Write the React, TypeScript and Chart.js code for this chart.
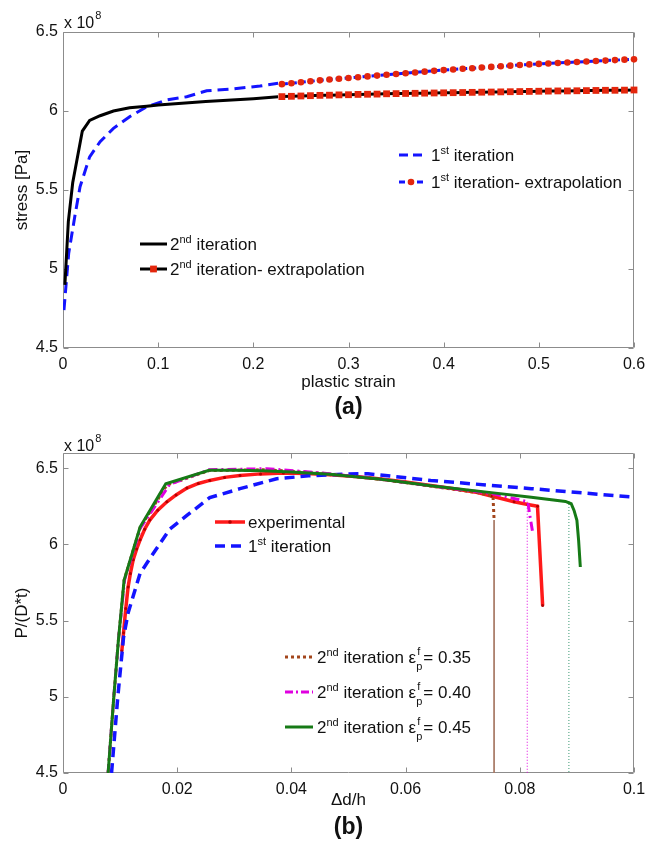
import { useEffect, useRef } from 'react';
import { Chart, registerables } from 'chart.js';

Chart.register(...registerables);

const FONT = '"Liberation Sans", Arial, Helvetica, sans-serif';

// ---------- (a) flow curves, stress in units of 1e8 Pa ----------
const strain2nd = [0.002, 0.0056, 0.0102, 0.0203, 0.028, 0.039, 0.053, 0.07, 0.088, 0.1, 0.15, 0.2, 0.226];
const stress2nd = [4.9, 5.3, 5.546, 5.873, 5.94, 5.97, 6.0, 6.02, 6.03, 6.038, 6.06, 6.078, 6.09];

const strain1st = [0.001, 0.006, 0.0126, 0.0179, 0.028, 0.039, 0.053, 0.07, 0.088, 0.109, 0.13, 0.151, 0.179, 0.207, 0.226];
const stress1st = [4.74, 5.1, 5.34, 5.52, 5.71, 5.806, 5.89, 5.964, 6.027, 6.07, 6.09, 6.128, 6.14, 6.158, 6.175];

const strainExtrap = [
  0.23, 0.24, 0.25, 0.26, 0.27, 0.28, 0.29, 0.3, 0.31, 0.32, 0.33, 0.34, 0.35, 0.36, 0.37, 0.38, 0.39, 0.4, 0.41,
  0.42, 0.43, 0.44, 0.45, 0.46, 0.47, 0.48, 0.49, 0.5, 0.51, 0.52, 0.53, 0.54, 0.55, 0.56, 0.57, 0.58, 0.59, 0.6,
];
const stress1stExtrap = [
  6.17, 6.176, 6.182, 6.188, 6.194, 6.199, 6.204, 6.209, 6.214, 6.219, 6.224, 6.229, 6.234, 6.239, 6.244, 6.249,
  6.254, 6.259, 6.263, 6.267, 6.271, 6.275, 6.279, 6.283, 6.287, 6.291, 6.295, 6.298, 6.301, 6.304, 6.307, 6.31,
  6.313, 6.316, 6.319, 6.322, 6.325, 6.327,
];
const stress2ndExtrap = [
  6.091, 6.093, 6.095, 6.097, 6.099, 6.1, 6.102, 6.103, 6.105, 6.106, 6.107, 6.109, 6.11, 6.111, 6.112, 6.113,
  6.114, 6.115, 6.116, 6.117, 6.118, 6.119, 6.12, 6.121, 6.122, 6.123, 6.124, 6.125, 6.126, 6.127, 6.127, 6.128,
  6.129, 6.13, 6.131, 6.131, 6.132, 6.133,
];
const strainTicks = [0, 0.1, 0.2, 0.3, 0.4, 0.5, 0.6];
const stressTicks = [4.5, 5, 5.5, 6, 6.5];

// ---------- (b) load–displacement, P/(D*t) in units of 1e8 ----------
const dhExp = [
  0.0103, 0.0106, 0.011, 0.0114, 0.0118, 0.0123, 0.0129, 0.0135, 0.0143, 0.0152, 0.0166, 0.0182, 0.0198, 0.0217,
  0.0237, 0.0257, 0.0283, 0.031, 0.0346, 0.0386, 0.0427, 0.0468, 0.0512, 0.0557, 0.06, 0.0644, 0.0685, 0.0726,
  0.075, 0.079, 0.0814, 0.0831, 0.084,
];
const loadExp = [
  5.3, 5.42, 5.58, 5.72, 5.81, 5.9, 5.97, 6.03, 6.1, 6.16, 6.225, 6.28, 6.325, 6.37, 6.4, 6.42, 6.44, 6.453, 6.463,
  6.468, 6.465, 6.457, 6.445, 6.43, 6.41, 6.387, 6.365, 6.34, 6.318, 6.28, 6.262, 6.25, 5.6,
];

const dh1st = [0.0085, 0.0096, 0.0106, 0.0114, 0.0135, 0.0158, 0.0187, 0.0217, 0.0257, 0.031, 0.0374, 0.043, 0.05, 0.0534, 0.0644, 0.082, 0.1];
const load1st = [4.5, 5.0, 5.39, 5.55, 5.81, 5.94, 6.1, 6.19, 6.307, 6.366, 6.431, 6.45, 6.462, 6.464, 6.42, 6.366, 6.31];

const dh035 = [0.0079, 0.0089, 0.0097, 0.0107, 0.0135, 0.0182, 0.0256, 0.0357, 0.045, 0.0557, 0.0644, 0.0725, 0.0753, 0.0755];
const load035 = [4.5, 5.0, 5.37, 5.765, 6.11, 6.39, 6.485, 6.49, 6.468, 6.427, 6.383, 6.34, 6.318, 6.16];

const dh040 = [0.0079, 0.0089, 0.0097, 0.0108, 0.0136, 0.0187, 0.0256, 0.0357, 0.045, 0.0557, 0.0644, 0.075, 0.0814, 0.0818, 0.0823];
const load040 = [4.5, 5.0, 5.37, 5.77, 6.11, 6.395, 6.49, 6.497, 6.47, 6.428, 6.385, 6.335, 6.28, 6.18, 6.07];

const dh045 = [
  0.0079, 0.0089, 0.0097, 0.0107, 0.0135, 0.018, 0.0256, 0.03, 0.035, 0.04, 0.0468, 0.0557, 0.0644, 0.075, 0.082,
  0.088, 0.089, 0.0895, 0.09, 0.0903, 0.0906,
];
const load045 = [
  4.5, 5.0, 5.37, 5.765, 6.114, 6.398, 6.486, 6.487, 6.484, 6.476, 6.46, 6.428, 6.385, 6.34, 6.31, 6.282, 6.267,
  6.223, 6.158, 6.027, 5.852,
];

// fracture markers: displacement at failure and load where each curve drops off
const dhFracture = [0.0755, 0.0813, 0.0886];
const loadFracture = [6.16, 6.28, 6.285];

const dhTicks = [0, 0.02, 0.04, 0.06, 0.08, 0.1];
const loadTicks = [4.5, 5, 5.5, 6, 6.5];

const pts = (xs: number[], ys: number[]) => xs.map((x, i) => ({ x, y: ys[i] }));
const vline = (x: number, top: number, bottom: number) => [
  { x, y: top },
  { x, y: bottom },
];

// ---------- drawing helpers ----------
type Run = { t: string; sup?: boolean; stack?: [string, string] };
type Sample = { color: string; width: number; dash?: number[]; marker?: 'circle' | 'square' | 'dot'; markerColor?: string };
type LegendRow = { y: number; runs: Run[]; sample: Sample };
type Legend = { x0: number; x1: number; tx: number; rows: LegendRow[] };
type Overlay = {
  legends: Legend[];
  xTitle: { text: string; y: number };
  yTitle: { text: string; x: number };
  letter: { text: string; y: number };
  expBase: number;
};

const LEG = 17;

function drawRuns(ctx: CanvasRenderingContext2D, x: number, midY: number, runs: Run[], size: number) {
  const base = midY + size * 0.36;
  const small = Math.round(size * 0.66);
  let cx = x;
  ctx.fillStyle = '#111';
  ctx.textAlign = 'left';
  ctx.textBaseline = 'alphabetic';
  for (const r of runs) {
    if (r.stack) {
      ctx.font = `${small}px ${FONT}`;
      const [sup, sub] = r.stack;
      ctx.fillText(sup, cx + 1, base - size * 0.45);
      ctx.fillText(sub, cx, base + size * 0.42);
      cx += Math.max(ctx.measureText(sup).width, ctx.measureText(sub).width) + 1;
    } else if (r.sup) {
      ctx.font = `${small}px ${FONT}`;
      ctx.fillText(r.t, cx, base - size * 0.42);
      cx += ctx.measureText(r.t).width;
    } else {
      ctx.font = `${size}px ${FONT}`;
      ctx.fillText(r.t, cx, base);
      cx += ctx.measureText(r.t).width;
    }
  }
}

function drawSample(ctx: CanvasRenderingContext2D, x0: number, x1: number, y: number, s: Sample) {
  ctx.save();
  ctx.strokeStyle = s.color;
  ctx.lineWidth = s.width;
  ctx.setLineDash(s.dash || []);
  ctx.beginPath();
  ctx.moveTo(x0, y);
  ctx.lineTo(x1, y);
  ctx.stroke();
  ctx.setLineDash([]);
  const mx = (x0 + x1) / 2;
  ctx.fillStyle = s.markerColor || s.color;
  if (s.marker === 'circle') {
    ctx.beginPath();
    ctx.arc(mx, y, 3.3, 0, Math.PI * 2);
    ctx.fill();
  } else if (s.marker === 'square') {
    ctx.fillRect(mx - 3.4, y - 3.4, 6.8, 6.8);
  } else if (s.marker === 'dot') {
    ctx.beginPath();
    ctx.arc(mx, y, 1.8, 0, Math.PI * 2);
    ctx.fill();
  }
  ctx.restore();
}

const boxPlugin = {
  id: 'matlabBox',
  beforeDatasetsDraw(chart: any) {
    const { ctx, chartArea: a } = chart;
    const xs = chart.scales.x;
    const ys = chart.scales.y;
    const L = Math.round(a.left) + 0.5;
    const R = Math.round(a.right) - 0.5;
    const T = Math.round(a.top) + 0.5;
    const B = Math.round(a.bottom) - 0.5;
    ctx.save();
    ctx.strokeStyle = '#8c8c8c';
    ctx.lineWidth = 1;
    ctx.setLineDash([]);
    ctx.beginPath();
    ctx.rect(L, T, R - L, B - T);
    for (const t of xs.ticks) {
      const p = Math.round(xs.getPixelForValue(t.value)) + 0.5;
      ctx.moveTo(p, B);
      ctx.lineTo(p, B - 5);
      ctx.moveTo(p, T);
      ctx.lineTo(p, T + 5);
    }
    for (const t of ys.ticks) {
      const p = Math.round(ys.getPixelForValue(t.value)) + 0.5;
      ctx.moveTo(L, p);
      ctx.lineTo(L + 5, p);
      ctx.moveTo(R, p);
      ctx.lineTo(R - 5, p);
    }
    ctx.stroke();
    ctx.restore();
  },
};

function overlayPlugin(o: Overlay) {
  return {
    id: 'overlayText',
    afterDraw(chart: any) {
      const { ctx, chartArea: a } = chart;
      const cx = (a.left + a.right) / 2;
      ctx.save();
      for (const lg of o.legends) {
        for (const row of lg.rows) {
          drawSample(ctx, lg.x0, lg.x1, row.y, row.sample);
          drawRuns(ctx, lg.tx, row.y, row.runs, LEG);
        }
      }
      ctx.fillStyle = '#111';
      ctx.textAlign = 'center';
      ctx.textBaseline = 'middle';
      ctx.font = `17px ${FONT}`;
      ctx.fillText(o.xTitle.text, cx, o.xTitle.y);
      ctx.save();
      ctx.translate(o.yTitle.x, (a.top + a.bottom) / 2);
      ctx.rotate(-Math.PI / 2);
      ctx.fillText(o.yTitle.text, 0, 0);
      ctx.restore();
      ctx.font = `bold 23px ${FONT}`;
      ctx.fillText(o.letter.text, cx, o.letter.y);
      // axis multiplier
      ctx.textAlign = 'left';
      ctx.textBaseline = 'alphabetic';
      ctx.font = `16px ${FONT}`;
      ctx.fillText('x 10', a.left + 1, o.expBase);
      const w = ctx.measureText('x 10').width;
      ctx.font = `11px ${FONT}`;
      ctx.fillText('8', a.left + 2 + w, o.expBase - 9);
      ctx.restore();
    },
  };
}

const fmt = (v: number) => String(Math.round(v * 10000) / 10000);

function axisOpts(min: number, max: number, ticks: number[], horizontal: boolean) {
  return {
    type: 'linear',
    min,
    max,
    afterBuildTicks: (s: any) => {
      s.ticks = ticks.map((v) => ({ value: v }));
    },
    afterFit: (s: any) => {
      if (horizontal) s.height = 72;
      else s.width = 63;
    },
    grid: { display: false, drawTicks: false },
    border: { display: false },
    ticks: {
      padding: horizontal ? 7 : 5,
      autoSkip: false,
      maxRotation: 0,
      color: '#111',
      font: { size: 16, family: FONT },
      callback: (v: any) => fmt(Number(v)),
    },
  };
}

function buildChart(
  canvas: HTMLCanvasElement,
  datasets: any[],
  x: [number, number, number[]],
  y: [number, number, number[]],
  padTop: number,
  overlay: Overlay,
) {
  return new Chart(canvas, {
    type: 'line',
    data: { datasets },
    options: {
      responsive: false,
      animation: false,
      events: [],
      layout: { padding: { top: padTop, right: 28, left: 0, bottom: 0 } },
      plugins: { legend: { display: false }, tooltip: { enabled: false }, title: { display: false } },
      elements: { line: { tension: 0, borderCapStyle: 'butt' }, point: { radius: 0 } },
      scales: {
        x: axisOpts(x[0], x[1], x[2], true),
        y: axisOpts(y[0], y[1], y[2], false),
      },
    } as any,
    plugins: [boxPlugin, overlayPlugin(overlay)],
  } as any);
}

const RED_MARK = '#e3260c';
const BLUE = '#1414ff';

const sup = (t: string): Run => ({ t, sup: true });

export default function App() {
  const refA = useRef<HTMLCanvasElement>(null);
  const refB = useRef<HTMLCanvasElement>(null);

  useEffect(() => {
    Chart.defaults.font.family = FONT;

    const chartA = buildChart(
      refA.current!,
      [
        {
          data: pts(strainExtrap, stress2ndExtrap),
          borderColor: '#000',
          borderWidth: 3,
          pointStyle: 'rect',
          pointRadius: 4.8,
          pointBackgroundColor: RED_MARK,
          pointBorderWidth: 0,
          clip: false,
        },
        {
          data: pts(strainExtrap, stress1stExtrap),
          borderColor: BLUE,
          borderWidth: 3,
          borderDash: [6, 3],
          pointStyle: 'circle',
          pointRadius: 3.3,
          pointBackgroundColor: RED_MARK,
          pointBorderWidth: 0,
          clip: false,
        },
        { data: pts(strain2nd, stress2nd), borderColor: '#000', borderWidth: 3 },
        { data: pts(strain1st, stress1st), borderColor: BLUE, borderWidth: 3, borderDash: [11, 6] },
      ],
      [0, 0.6, strainTicks],
      [4.5, 6.5, stressTicks],
      32,
      {
        legends: [
          {
            x0: 399,
            x1: 423,
            tx: 431,
            rows: [
              { y: 155, runs: [{ t: '1' }, sup('st'), { t: ' iteration' }], sample: { color: BLUE, width: 3, dash: [9, 5] } },
              {
                y: 182,
                runs: [{ t: '1' }, sup('st'), { t: ' iteration- extrapolation' }],
                sample: { color: BLUE, width: 3, dash: [6, 3], marker: 'circle', markerColor: RED_MARK },
              },
            ],
          },
          {
            x0: 140,
            x1: 167,
            tx: 170,
            rows: [
              { y: 244, runs: [{ t: '2' }, sup('nd'), { t: ' iteration' }], sample: { color: '#000', width: 3 } },
              {
                y: 269,
                runs: [{ t: '2' }, sup('nd'), { t: ' iteration- extrapolation' }],
                sample: { color: '#000', width: 3, marker: 'square', markerColor: RED_MARK },
              },
            ],
          },
        ],
        xTitle: { text: 'plastic strain', y: 382 },
        yTitle: { text: 'stress [Pa]', x: 22 },
        letter: { text: '(a)', y: 408 },
        expBase: 28,
      },
    );

    const GREEN = '#167a16';
    const MAGENTA = '#e000e0';
    const BROWN = '#a3461c';
    const RED = '#ff1a1a';

    const chartB = buildChart(
      refB.current!,
      [
        { data: pts(dh045, load045), borderColor: GREEN, borderWidth: 3 },
        { data: pts(dh040, load040), borderColor: MAGENTA, borderWidth: 3, borderDash: [9, 4, 2, 4] },
        { data: pts(dh035, load035), borderColor: BROWN, borderWidth: 3, borderDash: [3, 3] },
        { data: pts(dh1st, load1st), borderColor: BLUE, borderWidth: 3.5, borderDash: [10, 6] },
        {
          data: pts(dhExp, loadExp),
          borderColor: RED,
          borderWidth: 3.5,
          pointRadius: 1.5,
          pointBackgroundColor: '#b30000',
          pointBorderWidth: 0,
        },
        { data: vline(dhFracture[0], loadFracture[0], 4.5), borderColor: '#a87a66', borderWidth: 1 },
        { data: vline(dhFracture[1], loadFracture[1], 4.5), borderColor: MAGENTA, borderWidth: 1, borderDash: [1, 2] },
        { data: vline(dhFracture[2], loadFracture[2], 4.5), borderColor: '#3c9a74', borderWidth: 1, borderDash: [1, 2] },
      ],
      [0, 0.1, dhTicks],
      [4.5, 6.6, loadTicks],
      33,
      {
        legends: [
          {
            x0: 215,
            x1: 245,
            tx: 248,
            rows: [
              { y: 102, runs: [{ t: 'experimental' }], sample: { color: RED, width: 3.5, marker: 'dot', markerColor: '#b30000' } },
              { y: 126, runs: [{ t: '1' }, sup('st'), { t: ' iteration' }], sample: { color: BLUE, width: 3.5, dash: [10, 6] } },
            ],
          },
          {
            x0: 285,
            x1: 313,
            tx: 317,
            rows: [
              {
                y: 237,
                runs: [{ t: '2' }, sup('nd'), { t: ' iteration ε' }, { t: '', stack: ['f', 'p'] }, { t: '= 0.35' }],
                sample: { color: BROWN, width: 3, dash: [3, 3] },
              },
              {
                y: 272,
                runs: [{ t: '2' }, sup('nd'), { t: ' iteration ε' }, { t: '', stack: ['f', 'p'] }, { t: '= 0.40' }],
                sample: { color: MAGENTA, width: 3, dash: [8, 3, 2, 3] },
              },
              {
                y: 307,
                runs: [{ t: '2' }, sup('nd'), { t: ' iteration ε' }, { t: '', stack: ['f', 'p'] }, { t: '= 0.45' }],
                sample: { color: GREEN, width: 3 },
              },
            ],
          },
        ],
        xTitle: { text: 'Δd/h', y: 380 },
        yTitle: { text: 'P/(D*t)', x: 22 },
        letter: { text: '(b)', y: 408 },
        expBase: 31,
      },
    );

    return () => {
      chartA.destroy();
      chartB.destroy();
    };
  }, []);

  return (
    <div style={{ position: 'absolute', left: 0, top: 0, width: 662, height: 845, background: '#fff' }}>
      <canvas ref={refA} width={662} height={420} style={{ position: 'absolute', left: 0, top: 0, display: 'block' }} />
      <canvas ref={refB} width={662} height={425} style={{ position: 'absolute', left: 0, top: 420, display: 'block' }} />
    </div>
  );
}
